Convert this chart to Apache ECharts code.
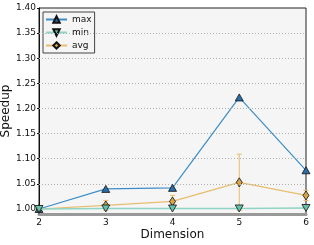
<!DOCTYPE html>
<html><head><meta charset="utf-8">
<script src="https://cdn.jsdelivr.net/npm/echarts@6/dist/echarts.min.js"></script>
<style>html,body{margin:0;padding:0;background:#fff}#c{width:314px;height:245px}</style>
</head><body><div id="c"></div>
<script>
var dims = [2, 3, 4, 5, 6];
var maxVals = [1.000, 1.040, 1.042, 1.222, 1.077];
var minVals = [1.000, 1.001, 1.001, 1.001, 1.002];
var avgVals = [1.000, 1.007, 1.015, 1.053, 1.027];
var avgErr  = [0.000, 0.010, 0.012, 0.056, 0.010];
var yTicks = [1.00, 1.05, 1.10, 1.15, 1.20, 1.25, 1.30, 1.35, 1.40];
var gridVals = [1.05, 1.10, 1.15, 1.20, 1.25, 1.30, 1.35];
var xTicks = [2, 3, 4, 5, 6];

function pairs(v){ return dims.map(function(d,i){ return [d, v[i]]; }); }
var errData = dims.map(function(d,i){ return [d, avgVals[i]-avgErr[i], avgVals[i]+avgErr[i]]; });

var font = 'DejaVu Sans';
var chart = echarts.init(document.getElementById('c'), null, {renderer:'canvas'});
chart.setOption({
  animation: false,
  textStyle: {fontFamily: font},
  grid: {left: 39, right: 8, top: 8, bottom: 31, containLabel: false, outerBoundsMode: 'none',
    show: true, backgroundColor: '#f5f5f5', borderColor: '#222', borderWidth: 1},
  legend: {
    orient: 'vertical', left: 43, top: 12,
    data: ['max', 'min', 'avg'],
    backgroundColor: '#f5f5f5', borderColor: '#444', borderWidth: 1, borderRadius: 0,
    padding: [3, 3, 3, 2], itemGap: 4, itemWidth: 21, itemHeight: 8,
    textStyle: {fontFamily: font, fontSize: 9, color: '#111', padding: [0,0,0,0]}
  },
  xAxis: {
    type: 'value', min: 2, max: 6, interval: 1,
    name: 'Dimension', nameLocation: 'middle', nameGap: 15, nameMoveOverlap: false,
    nameTextStyle: {fontFamily: font, fontSize: 12, color: '#111'},
    axisLine: {show: true, lineStyle: {color: '#999', width: 3}},
    axisTick: {show: false},
    axisLabel: {fontFamily: font, fontSize: 9, color: '#111', margin: 4, customValues: xTicks},
    splitLine: {show: false}
  },
  yAxis: {
    type: 'value', min: 0.99, max: 1.40,
    name: 'Speedup', nameLocation: 'middle', nameGap: 27, nameMoveOverlap: false,
    nameTextStyle: {fontFamily: font, fontSize: 12, color: '#111'},
    axisLine: {show: true, lineStyle: {color: '#111', width: 1}},
    axisTick: {show: true, length: 2, customValues: yTicks, lineStyle: {color: '#111'}},
    axisLabel: {fontFamily: font, fontSize: 9, color: '#111', margin: 3, customValues: yTicks,
      formatter: function(v){ return v.toFixed(2); }},
    splitLine: {show: false}
  },
  series: [
    {
      name: 'grid', type: 'line', data: [], silent: true, z: 1,
      markLine: {silent: true, symbol: 'none', label: {show: false},
        lineStyle: {type: [1, 2], color: '#b0b0b0', width: 1},
        data: gridVals.map(function(v){ return {yAxis: v}; })}
    },
    {
      name: 'max', type: 'line', data: pairs(maxVals), z: 3,
      symbol: 'triangle', symbolSize: [8, 7],
      lineStyle: {color: '#3d8cc6', width: 1.2},
      itemStyle: {color: '#2a6ea8', borderColor: '#111', borderWidth: 0.8}
    },
    {
      name: 'avg', type: 'line', data: pairs(avgVals), z: 4,
      symbol: 'diamond', symbolSize: [6, 9],
      lineStyle: {color: '#e8bd6d', width: 1.2},
      itemStyle: {color: '#d6a44a', borderColor: '#111', borderWidth: 0.8}
    },
    {
      name: 'avgErr', type: 'custom', data: errData, z: 3, silent: true,
      renderItem: function(params, api){
        var x = api.value(0);
        var lo = api.coord([x, api.value(1)]);
        var hi = api.coord([x, api.value(2)]);
        var style = {stroke: '#e9bb6a', lineWidth: 1, opacity: 1};
        return {type: 'group', children: [
          {type: 'line', shape: {x1: lo[0], y1: lo[1], x2: hi[0], y2: hi[1]}, style: style},
          {type: 'line', shape: {x1: hi[0]-2.5, y1: hi[1], x2: hi[0]+2.5, y2: hi[1]}, style: style},
          {type: 'line', shape: {x1: lo[0]-2.5, y1: lo[1], x2: lo[0]+2.5, y2: lo[1]}, style: style}
        ]};
      }
    },
    {
      name: 'min', type: 'line', data: pairs(minVals), z: 5,
      symbol: 'triangle', symbolRotate: 180, symbolSize: [8, 7],
      lineStyle: {color: '#8fd4c4', width: 1.6},
      itemStyle: {color: '#66c2ad', borderColor: '#111', borderWidth: 0.8}
    }
  ]
});
</script></body></html>
